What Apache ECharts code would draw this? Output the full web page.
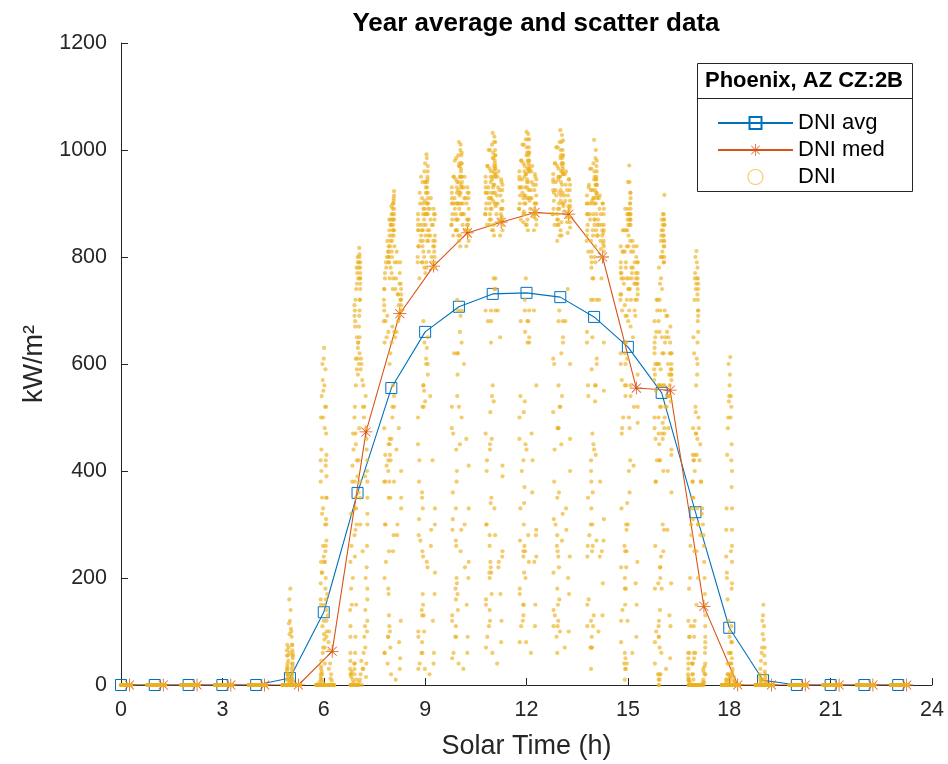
<!DOCTYPE html>
<html><head><meta charset="utf-8">
<script src="https://cdn.jsdelivr.net/npm/echarts@6/dist/echarts.min.js"></script>
<style>html,body{margin:0;padding:0;background:#fff}#chart{width:948px;height:764px}</style>
</head><body><div id="chart"></div>
<script>
// ---------- DATA ----------
const hours = [0,1,2,3,4,5,6,7,8,9,10,11,12,13,14,15,16,17,18,19,20,21,22,23];
const dniAvg = [0,0,0,0,0,13,136,359,555,660,707,731,733,725,688,632,546,323,107,9,0,0,0,0];
const medTime = [0.25,1.25,2.25,3.25,4.25,5.25,6.25,7.25,8.25,9.25,10.25,11.25,12.25,13.25,14.25,15.25,16.25,17.25,18.25,19.25,20.25,21.25,22.25,23.25];
const dniMed = [0,0,0,0,0,0,63,473,694,783,845,865,883,880,800,555,551,147,0,0,0,0,0,0];
const xTicks = [0,3,6,9,12,15,18,21,24];
const yTicks = [0,200,400,600,800,1000,1200];

// solar-time offset (h) of each sampled day, set A and set B
const dayOffsetsA = [-0.03,-0.07,-0.11,-0.14,-0.17,-0.19,-0.20,-0.21,-0.22,-0.21,
 -0.21,-0.20,-0.19,-0.17,-0.15,-0.13,-0.10,-0.08,-0.05,-0.03,
 0.00,0.02,0.04,0.06,0.07,0.08,0.08,0.08,0.08,0.07,
 0.06,0.05,0.03,0.01,-0.01,-0.02,-0.04,-0.05,-0.07,-0.08,
 -0.09,-0.09,-0.09,-0.08,-0.07,-0.06,-0.04,-0.02,0.01,0.03,
 0.06,0.09,0.12,0.15,0.17,0.20,0.23,0.25,0.27,0.28,
 0.29,0.29,0.29,0.29,0.27,0.25,0.23,0.20,0.17,0.13,
 0.09,0.05,0.01];
const dayOffsetsB = [-0.05,-0.09,-0.12,-0.16,-0.18,-0.20,-0.21,-0.22,-0.21,-0.21,
 -0.20,-0.19,-0.18,-0.16,-0.14,-0.12,-0.09,-0.06,-0.04,-0.02,
 0.01,0.03,0.05,0.06,0.08,0.08,0.08,0.08,0.07,0.06,
 0.05,0.04,0.02,0.00,-0.02,-0.03,-0.05,-0.06,-0.08,-0.09,
 -0.09,-0.09,-0.08,-0.07,-0.06,-0.05,-0.03,0.00,0.02,0.04,
 0.08,0.10,0.14,0.16,0.19,0.22,0.24,0.26,0.28,0.29,
 0.29,0.29,0.29,0.28,0.26,0.24,0.22,0.18,0.15,0.11,
 0.07,0.03,-0.01];

const dniNight = [0,0,0,0,0,0,0,0,0,0, 0,0,0,0,0,0,0,0,0,0, 0,0,0,0,0,0,0,0,0,0, 0,0,0,0,0,0,0,0,0,0,
 0,0,0,0,0,0,0,0,0,0, 0,0,0,0,0,0,0,0,0,0, 0,0,0,0,0,0,0,0,0,0, 0,0,0];

const dniH05A = [0,0,0,0,0,0,0,0,0,0, 0,0,0,0,0,0,0,0,0,0, 0,0,8,15,25,5,40,55,55,65, 75,90,105,180,95,60,70,45,0,75,
 30,0,55,20,30,10,0,5,0,0, 0,0,0,0,0,0,0,0,0,0, 0,0,0,0,0,0,0,0,0,0, 0,0,0];
const dniH05B = [0,0,0,0,0,0,0,0,0,0, 0,0,0,0,0,0,0,0,0,0, 0,3,12,20,10,35,50,60,75,40, 30,100,140,120,160,115,20,55,35,10,
 65,25,0,40,15,20,0,8,0,0, 0,0,0,0,0,0,0,0,0,0, 0,0,0,0,0,0,0,0,0,0, 0,0,0];
const dniH06A = [0,0,0,0,0,0,0,0,0,0, 0,0,0,0,0,5,0,35,20,60, 120,85,230,160,310,140,270,430,350,520, 410,590,480,630,550,260,600,210,45,500,
 190,10,380,150,440,25,110,330,230,70, 200,100,130,30,65,12,0,0,0,0, 0,0,0,0,0,0,0,0,0,0, 0,0,0];
const dniH06B = [0,0,0,0,0,0,0,0,0,0, 0,0,0,0,0,0,15,10,0,70, 95,40,180,260,120,350,300,390,470,420, 250,520,560,610,500,570,320,540,230,20,
 420,160,30,400,210,350,5,240,150,300, 90,170,80,100,40,20,8,0,0,0, 0,0,0,0,0,0,0,0,0,0, 0,0,0];
const dniH07A = [0,0,0,10,25,15,0,90,140,60, 230,20,320,150,410,470,40,520,560,300, 610,640,670,700,720,380,750,770,790,760, 800,817,780,790,770,420,740,350,60,700,
 280,30,690,240,680,90,330,650,630,360, 620,590,600,250,560,520,70,480,440,400, 180,350,300,120,220,15,140,90,30,0, 20,5,0];
const dniH07B = [0,0,5,0,0,20,45,30,0,110, 0,180,260,380,200,440,500,470,150,590, 580,420,690,650,350,760,740,780,720,805, 480,790,760,800,750,780,450,720,380,20,
 710,330,40,670,290,610,10,390,640,600, 300,610,570,520,500,390,540,460,100,420, 380,320,160,260,40,200,110,60,30,45, 10,0,0];
const dniH08A = [620,250,40,650,680,300,200,700,720,380, 740,60,760,300,780,800,90,820,840,350, 860,830,890,850,910,380,870,923,880,840, 900,850,870,810,860,420,820,460,130,790,
 400,180,800,350,790,110,430,780,770,500, 760,820,740,440,790,730,80,770,720,750, 400,720,730,330,700,30,690,680,280,10, 660,250,640];
const dniH08B = [450,660,690,230,380,640,710,680,480,740, 60,770,430,790,410,830,810,850,100,870, 880,520,900,860,540,915,890,850,905,870, 560,880,840,895,860,830,600,870,450,90,
 810,420,170,800,380,760,70,460,800,740, 520,790,760,810,730,480,750,790,120,710, 740,700,350,720,50,690,710,300,660,650, 280,670,20];
const dniH09A = [800,330,60,830,760,280,30,850,790,450, 870,100,820,420,900,860,140,940,890,550, 975,930,992,900,950,600,880,960,910,850, 940,880,920,840,905,640,860,560,170,820,
 360,80,790,250,850,150,520,780,880,610, 830,900,850,540,910,860,120,890,820,870, 300,840,880,210,810,40,860,790,260,20, 830,230,770];
const dniH09B = [560,790,840,40,310,820,860,800,500,880, 90,850,380,920,270,950,910,880,130,960, 940,600,985,930,650,970,920,890,945,900, 630,920,880,940,890,870,680,900,520,130,
 850,350,60,830,240,810,100,530,860,780, 580,840,890,870,800,420,830,880,170,790, 830,780,330,800,60,820,780,290,840,810, 220,790,30];
const dniH10A = [870,380,90,900,840,290,50,910,860,520, 930,130,880,470,950,910,180,985,940,620, 1015,970,1000,950,990,500,930,975,950,900, 965,920,950,890,940,700,900,540,200,870,
 330,110,850,260,900,190,580,840,920,450, 880,940,900,600,950,910,150,930,870,910, 410,890,920,230,860,60,900,850,300,30, 880,250,830];
const dniH10B = [620,850,890,60,360,870,900,860,480,920, 120,900,310,950,620,980,945,920,170,990, 975,660,1010,960,700,995,950,930,975,935, 690,950,915,970,925,900,720,930,440,160,
 880,270,90,870,400,850,140,520,900,820, 640,880,930,910,850,460,870,920,200,840, 870,830,330,850,90,860,820,220,880,860, 290,840,40];
const dniH11A = [890,510,110,920,860,300,70,930,880,700, 950,160,900,420,970,930,210,1000,960,460, 1032,985,1015,965,1000,740,950,990,965,920, 975,935,960,905,950,540,910,700,230,880,
 280,140,860,440,910,220,350,850,930,760, 900,955,915,700,960,925,170,945,890,925, 250,905,935,390,875,80,915,865,220,40, 895,330,850];
const dniH11B = [680,870,910,90,300,890,920,880,470,940, 150,920,400,970,680,1000,965,940,210,1010, 995,530,1025,980,760,1015,970,950,990,955, 740,970,935,985,945,920,640,950,450,200,
 900,260,120,890,340,870,170,560,920,840, 700,900,950,930,870,650,890,940,240,860, 890,850,410,870,120,880,840,230,900,880, 280,860,60];
const dniH12A = [900,340,120,930,870,270,80,945,890,500, 960,170,915,680,980,945,150,1010,970,450, 1034,995,1020,975,1005,650,960,995,970,925, 980,940,965,910,955,760,915,530,210,885,
 420,130,865,300,915,260,660,860,940,640, 910,965,925,470,970,935,230,955,900,935, 560,915,945,240,885,110,925,875,360,60, 905,280,860];
const dniH12B = [720,880,920,110,330,900,930,890,460,950, 180,930,540,980,400,1010,975,950,250,1020, 1005,680,1030,990,700,1020,980,960,995,965, 680,980,945,990,955,930,700,960,510,240,
 910,250,150,900,370,880,200,440,930,850, 640,910,960,940,880,700,900,950,280,870, 900,860,290,880,150,890,850,420,910,890, 230,870,80];
const dniH13A = [890,480,90,925,860,310,110,940,880,610, 955,140,905,440,975,940,260,1005,965,700, 1037,990,1015,970,1000,650,955,990,965,920, 975,935,960,905,950,520,900,480,150,860,
 280,60,830,250,890,120,360,840,925,620, 900,955,915,680,960,925,200,945,890,925, 600,905,935,460,875,100,915,865,330,70, 895,270,850];
const dniH13B = [680,870,915,130,380,890,925,880,510,945, 210,920,600,975,300,1005,970,945,220,1015, 1000,450,1028,985,640,1018,975,955,990,960, 540,975,940,985,950,920,560,950,480,180,
 880,350,110,870,240,860,160,520,915,840, 680,900,955,935,875,740,895,945,240,865, 895,855,400,875,170,885,845,290,905,885, 320,865,100];
const dniH14A = [840,590,70,880,810,260,150,900,830,640, 915,110,860,540,935,900,300,965,925,720, 1019,950,985,935,970,610,920,960,935,880, 945,900,925,870,910,450,850,300,90,780,
 400,30,720,330,810,70,360,760,860,530, 850,910,870,720,915,880,250,900,845,880, 640,860,890,550,825,130,860,815,240,100, 840,430,800];
const dniH14B = [650,830,870,160,350,850,880,840,660,900, 240,880,560,930,280,965,925,905,260,975, 960,560,1000,945,600,980,935,915,950,920, 560,935,900,945,910,880,470,900,380,120,
 800,420,70,790,250,760,110,440,870,790, 720,860,910,890,830,760,850,900,270,820, 850,810,310,830,190,840,800,380,860,840, 270,820,130];
const dniH15A = [720,540,40,760,700,330,120,790,730,600, 820,80,770,480,850,810,260,890,850,690, 940,880,971,870,920,560,870,910,890,830, 900,860,880,820,870,340,760,220,50,640,
 180,10,560,150,690,30,290,610,740,400, 740,810,770,650,820,790,190,800,750,790, 580,760,790,490,720,90,750,700,410,60, 720,360,680];
const dniH15B = [560,710,750,140,570,730,770,720,620,780, 220,760,470,810,500,850,810,790,250,880, 860,500,940,880,540,920,880,860,900,870, 480,880,840,890,850,820,300,780,250,60,
 620,200,30,600,180,640,40,300,760,700, 670,780,830,810,750,690,770,820,230,740, 770,730,520,750,150,760,720,520,780,760, 420,740,120];
const dniH16A = [560,420,20,600,550,260,80,640,590,480, 680,40,650,380,720,700,190,780,750,590, 850,800,880,820,870,470,830,916,860,790, 880,830,860,800,840,240,700,140,20,560,
 110,0,470,90,600,10,200,520,650,300, 620,700,650,520,690,650,130,640,590,620, 440,580,600,360,530,50,540,480,290,30, 500,250,470];
const dniH16B = [420,560,600,100,460,580,620,570,500,630, 180,600,380,660,420,720,680,660,220,760, 740,460,840,790,480,860,820,800,870,840, 400,850,810,870,830,800,220,720,120,10,
 500,90,0,450,70,520,20,180,620,560, 560,640,690,660,600,580,620,670,190,590, 620,570,430,580,110,560,540,400,540,520, 290,490,60];
const dniH17A = [0,0,0,0,5,10,0,40,60,30, 120,0,180,90,260,300,40,380,420,250, 520,560,610,640,680,300,700,750,740,720, 780,760,811,740,770,120,620,60,0,430,
 40,0,350,20,480,0,90,400,510,150, 460,500,420,280,380,330,30,260,200,170, 70,110,80,20,35,0,10,0,0,0, 0,0,0];
const dniH17B = [0,0,0,0,0,8,15,20,10,50, 0,90,60,200,110,280,330,350,50,430, 470,250,580,600,300,690,660,700,760,730, 330,790,750,800,760,720,110,650,40,0,
 380,20,0,310,10,420,0,60,470,430, 200,480,450,380,320,300,280,230,20,150, 130,90,40,60,5,25,5,0,0,0, 0,0,0];
const dniH18A = [0,0,0,0,0,0,0,0,0,0, 0,0,0,0,0,0,0,0,0,0, 5,20,60,110,180,80,260,330,400,450, 520,540,613,560,530,60,480,20,0,330,
 10,0,240,0,200,0,20,120,90,15, 40,25,8,0,0,0,0,0,0,0, 0,0,0,0,0,0,0,0,0,0, 0,0,0];
const dniH18B = [0,0,0,0,0,0,0,0,0,0, 0,0,0,0,0,0,0,0,0,0, 10,15,40,80,50,190,230,290,370,420, 250,500,580,540,600,500,40,430,10,0,
 290,5,0,210,0,160,0,40,100,60, 20,30,15,5,0,0,0,0,0,0, 0,0,0,0,0,0,0,0,0,0, 0,0,0];
const dniH19A = [0,0,0,0,0,0,0,0,0,0, 0,0,0,0,0,0,0,0,0,0, 0,0,0,0,0,0,0,0,5,15, 40,70,110,150,95,10,60,0,0,30,
 0,0,20,0,8,0,0,0,0,0, 0,0,0,0,0,0,0,0,0,0, 0,0,0,0,0,0,0,0,0,0, 0,0,0];
const dniH19B = [0,0,0,0,0,0,0,0,0,0, 0,0,0,0,0,0,0,0,0,0, 0,0,0,0,0,0,0,3,10,20, 25,55,85,130,120,70,0,45,0,0,
 15,0,0,10,0,5,0,0,0,0, 0,0,0,0,0,0,0,0,0,0, 0,0,0,0,0,0,0,0,0,0, 0,0,0];

const scatterA = [dniNight,dniNight,dniNight,dniNight,dniNight,dniH05A,dniH06A,dniH07A,dniH08A,dniH09A,dniH10A,dniH11A,
 dniH12A,dniH13A,dniH14A,dniH15A,dniH16A,dniH17A,dniH18A,dniH19A,dniNight,dniNight,dniNight,dniNight];
const scatterB = [dniNight,dniNight,dniNight,dniNight,dniNight,dniH05B,dniH06B,dniH07B,dniH08B,dniH09B,dniH10B,dniH11B,
 dniH12B,dniH13B,dniH14B,dniH15B,dniH16B,dniH17B,dniH18B,dniH19B,dniNight,dniNight,dniNight,dniNight];

// ---------- BUILD ----------
const FONT = '"Liberation Sans", Arial, Helvetica, sans-serif';
const avgData = hours.map((h, i) => [h, dniAvg[i]]);
const medData = medTime.map((t, i) => [t, dniMed[i]]);
const scatterData = [];
hours.forEach((h, hi) => {
  scatterA[hi].forEach((v, di) => { if (di < dayOffsetsA.length) scatterData.push([h + dayOffsetsA[di], v]); });
  scatterB[hi].forEach((v, di) => { if (di < dayOffsetsB.length) scatterData.push([h + dayOffsetsB[di], v]); });
});
const asterisk = 'path://M0 9.4L20 9.4L20 10.6L0 10.6Z M9.4 0L10.6 0L10.6 20L9.4 20Z M2.6 3.4L3.4 2.6L17.4 16.6L16.6 17.4Z M16.6 2.6L17.4 3.4L3.4 17.4L2.6 16.6Z';
const AX = '#262626';

const chart = echarts.init(document.getElementById('chart'), null, {renderer: 'canvas'});
chart.setOption({
  animation: false,
  backgroundColor: '#fff',
  title: {
    text: 'Year average and scatter data', left: 531, top: 6, textAlign: 'center',
    textStyle: {fontFamily: FONT, fontSize: 26, fontWeight: 'bold', color: '#000'}
  },
  grid: {left: 121, right: 16, top: 43, bottom: 79, outerBoundsMode: 'none', containLabel: false},
  xAxis: {
    type: 'value', min: xTicks[0], max: xTicks[xTicks.length - 1], interval: 3,
    name: 'Solar Time (h)', nameLocation: 'middle', nameGap: 48,
    nameTextStyle: {fontFamily: FONT, fontSize: 27, color: AX},
    axisLine: {show: true, lineStyle: {color: AX, width: 1}},
    axisTick: {show: true, inside: true, length: 7, lineStyle: {color: AX}},
    axisLabel: {fontFamily: FONT, fontSize: 21.5, color: AX, margin: 14, formatter: v => String(v)},
    splitLine: {show: false}
  },
  yAxis: {
    type: 'value', min: yTicks[0], max: yTicks[yTicks.length - 1], interval: 200,
    name: 'kW/m²', nameLocation: 'middle', nameGap: 68, nameRotate: 90,
    nameTextStyle: {fontFamily: FONT, fontSize: 27, color: AX},
    axisLine: {show: true, lineStyle: {color: AX, width: 1}},
    axisTick: {show: true, inside: true, length: 7, lineStyle: {color: AX}},
    axisLabel: {fontFamily: FONT, fontSize: 21.5, color: AX, margin: 14, formatter: v => String(v)},
    splitLine: {show: false}
  },
  legend: {
    orient: 'vertical', left: 712, top: 107, itemWidth: 75, itemHeight: 15, itemGap: 5,
    textStyle: {fontFamily: FONT, fontSize: 22, color: '#000'},
    data: [
      {name: 'DNI avg'},
      {name: 'DNI med'},
      {name: 'DNI', icon: 'circle', itemStyle: {color: 'rgba(0,0,0,0)', borderColor: '#EDB120', borderWidth: 1.2}}
    ]
  },
  graphic: [
    {type: 'rect', z: -1, shape: {x: 697.5, y: 63.5, width: 215, height: 128}, style: {fill: '#fff', stroke: AX, lineWidth: 1}},
    {type: 'line', z: -1, shape: {x1: 697.5, y1: 98.5, x2: 912.5, y2: 98.5}, style: {stroke: AX, lineWidth: 1}},
    {type: 'text', z: 5, x: 804, y: 81, style: {text: 'Phoenix, AZ CZ:2B', fontFamily: FONT, fontSize: 22, fontWeight: 'bold', fill: '#000', textAlign: 'center', textVerticalAlign: 'middle'}}
  ],
  series: [
    {
      name: 'DNI avg', type: 'line', data: avgData, z: 3,
      symbol: 'rect', symbolSize: 11, showAllSymbol: true,
      itemStyle: {color: 'rgba(0,0,0,0)', borderColor: '#0072BD', borderWidth: 1},
      lineStyle: {color: '#0072BD', width: 1.1}
    },
    {
      name: 'DNI med', type: 'line', data: medData, z: 3,
      symbol: asterisk, symbolSize: 13, showAllSymbol: true,
      itemStyle: {color: '#D95319'},
      lineStyle: {color: '#D95319', width: 1.1}
    },
    {
      name: 'DNI', type: 'scatter', data: scatterData, z: 4,
      symbol: 'circle', symbolSize: 4.2,
      itemStyle: {color: '#EDB120', opacity: 0.65}
    }
  ]
});
</script></body></html>
